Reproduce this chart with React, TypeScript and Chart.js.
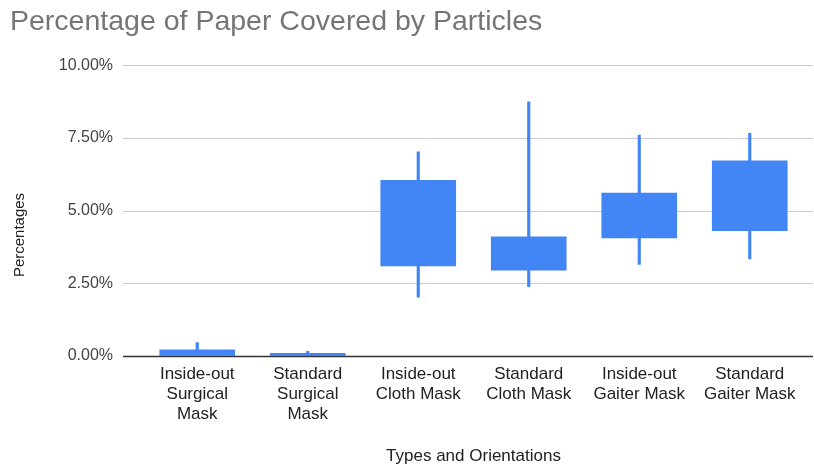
import React, { useEffect, useRef } from "react";
import { Chart, registerables } from "chart.js";

Chart.register(...registerables);

const categories: string[][] = [
  ["Inside-out", "Surgical", "Mask"],
  ["Standard", "Surgical", "Mask"],
  ["Inside-out", "Cloth Mask"],
  ["Standard", "Cloth Mask"],
  ["Inside-out", "Gaiter Mask"],
  ["Standard", "Gaiter Mask"],
];
const lows = [0, 0, 2.02, 2.38, 3.15, 3.34];
const boxBottoms = [0, 0, 3.1, 2.95, 4.06, 4.31];
const boxTops = [0.21, 0.09, 6.04, 4.1, 5.6, 6.71];
const highs = [0.46, 0.16, 7.02, 8.74, 7.6, 7.66];
const yTicks = [0, 2.5, 5, 7.5, 10];

const FONT = "'Liberation Sans', Arial, sans-serif";
const BLUE = "#4285f4";

const gridPlugin = {
  id: "extGrid",
  beforeDatasetsDraw(chart: any) {
    const { ctx, scales } = chart;
    const y = scales.y;
    ctx.save();
    yTicks.forEach((v) => {
      const py = Math.round(y.getPixelForValue(v)) + 0.5;
      ctx.beginPath();
      ctx.strokeStyle = v === 0 ? "#333333" : "#cccccc";
      ctx.lineWidth = v === 0 ? 1.5 : 1;
      ctx.moveTo(123, py);
      ctx.lineTo(813, py);
      ctx.stroke();
    });
    ctx.restore();
  },
  afterDraw(chart: any) {
    const { ctx } = chart;
    ctx.save();
    ctx.translate(20, 235);
    ctx.rotate(-Math.PI / 2);
    ctx.font = `15px ${FONT}`;
    ctx.fillStyle = "#222222";
    ctx.textAlign = "center";
    ctx.textBaseline = "middle";
    ctx.fillText("Percentages", 0, 0);
    ctx.restore();
  },
};

export default function App() {
  const ref = useRef<HTMLCanvasElement | null>(null);
  useEffect(() => {
    document.body.style.margin = "0";
    const canvas = ref.current!;
    const chart = new Chart(canvas, {
      type: "bar",
      data: {
        labels: categories,
        datasets: [
          {
            label: "Range",
            data: lows.map((l, i) => [l, highs[i]]),
            backgroundColor: BLUE,
            barThickness: 2.5,
            grouped: false,
            borderWidth: 0,
          } as any,
          {
            label: "Box",
            data: boxBottoms.map((b, i) => [b, boxTops[i]]),
            backgroundColor: BLUE,
            barThickness: 75,
            grouped: false,
            borderWidth: 0,
          } as any,
        ],
      },
      options: {
        animation: false,
        responsive: false,
        maintainAspectRatio: false,
        layout: { padding: { left: 10, top: 0, right: 9, bottom: 0 } },
        plugins: {
          legend: { display: false },
          tooltip: { enabled: false },
          title: {
            display: true,
            text: "Percentage of Paper Covered by Particles",
            align: "start",
            color: "#757575",
            font: { family: FONT, size: 28.5, weight: "normal" },
            padding: { top: 5, bottom: 26 },
          },
        },
        scales: {
          x: {
            grid: { display: false, drawTicks: false },
            border: { display: false },
            ticks: {
              color: "#222222",
              font: { family: FONT, size: 17, lineHeight: 1.15 },
              padding: 9,
              maxRotation: 0,
              autoSkip: false,
            },
            title: {
              display: true,
              text: "Types and Orientations",
              color: "#222222",
              font: { family: FONT, size: 17 },
              padding: { top: 4, bottom: 2 },
            },
            afterFit(scale: any) {
              scale.height = 113;
            },
          },
          y: {
            min: 0,
            max: 10,
            grid: { display: false, drawTicks: false },
            border: { display: false },
            afterBuildTicks(scale: any) {
              scale.ticks = yTicks.map((v) => ({ value: v }));
            },
            ticks: {
              color: "#444444",
              font: { family: FONT, size: 16 },
              padding: 29,
              callback: (v: any) => Number(v).toFixed(2) + "%",
            },
            afterFit(scale: any) {
              scale.width = 132;
            },
          },
        },
      },
      plugins: [gridPlugin],
    });
    return () => chart.destroy();
  }, []);
  return <canvas ref={ref} width={814} height={469} style={{ display: "block" }} />;
}
